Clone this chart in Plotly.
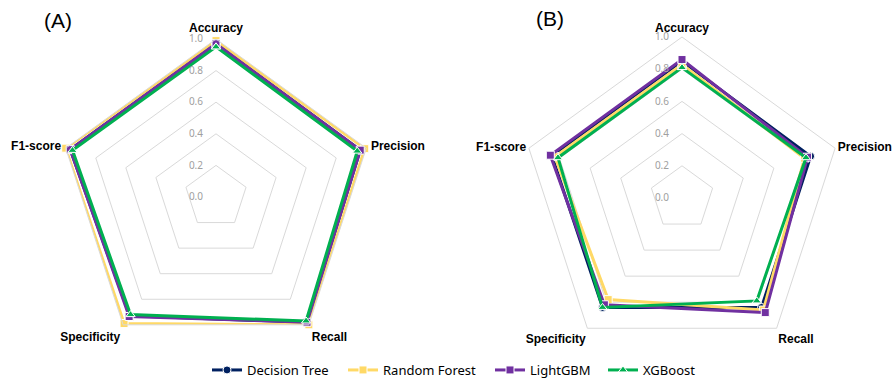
import plotly.graph_objects as go

categories = ["Accuracy", "Precision", "Recall", "Specificity", "F1-score"]
models = ["Decision Tree", "Random Forest", "LightGBM", "XGBoost"]

# Panel (A)
a_decision_tree = [0.97, 0.96, 0.98, 0.93, 0.97]
a_random_forest = [0.99, 0.99, 1.00, 0.99, 1.00]
a_lightgbm = [0.97, 0.96, 0.98, 0.935, 0.97]
a_xgboost = [0.95, 0.94, 0.97, 0.92, 0.955]

# Panel (B)
b_decision_tree = [0.85, 0.84, 0.84, 0.84, 0.85]
b_random_forest = [0.83, 0.80, 0.86, 0.78, 0.83]
b_lightgbm = [0.86, 0.82, 0.88, 0.82, 0.86]
b_xgboost = [0.81, 0.81, 0.79, 0.84, 0.81]

tick_vals = [0.0, 0.2, 0.4, 0.6, 0.8, 1.0]
tick_text = ["0.0", "0.2", "0.4", "0.6", "0.8", "1.0"]

colors = ["#002060", "#FFD966", "#7030A0", "#00B050"]
symbols = ["circle", "square", "square", "triangle-up"]
legend_ids = ["legend", "legend2", "legend3", "legend4"]
legend_text_x = [247, 383, 530, 643]

panel_a = [a_decision_tree, a_random_forest, a_lightgbm, a_xgboost]
panel_b = [b_decision_tree, b_random_forest, b_lightgbm, b_xgboost]

fig = go.Figure()

def closed(v):
    return list(v) + [v[0]]

for subplot, data, show in [("polar", panel_a, True), ("polar2", panel_b, False)]:
    for name, vals, col, sym, lid in zip(models, data, colors, symbols, legend_ids):
        fig.add_trace(go.Scatterpolar(
            r=closed(vals), theta=closed(categories), name=name,
            mode="lines+markers", subplot=subplot, showlegend=show, legend=lid,
            line=dict(color=col, width=3),
            marker=dict(symbol=sym, size=8, color=col, line=dict(color="white", width=1)),
        ))

def polar_layout(xdom, ydom, label_pad):
    return dict(
        domain=dict(x=xdom, y=ydom),
        bgcolor="white",
        gridshape="linear",
        angularaxis=dict(
            rotation=90, direction="clockwise", showgrid=False,
            linecolor="#d9d9d9", linewidth=1, ticks="outside", ticklen=label_pad,
            tickcolor="rgba(0,0,0,0)",
            tickfont=dict(family="Liberation Sans, Arial", size=12, color="black", weight="bold"),
        ),
        radialaxis=dict(
            range=[0, 1], tickvals=tick_vals, ticktext=tick_text, angle=90, tickangle=90,
            showline=False, gridcolor="#d9d9d9", gridwidth=1,
            ticks="outside", ticklen=9, tickcolor="rgba(0,0,0,0)",
            side="counterclockwise",
            tickfont=dict(family="Noto Sans", size=10, color="#a0a0a0"),
        ),
    )

legends = {}
for lid, tx in zip(legend_ids, legend_text_x):
    legends[lid] = dict(
        orientation="h", x=(tx - 40) / 894, xanchor="left", y=(381 - 370) / 381, yanchor="middle",
        font=dict(family="Noto Sans", size=13, color="black"),
        bgcolor="rgba(0,0,0,0)", itemwidth=30,
    )

fig.update_layout(
    width=894, height=381,
    margin=dict(l=0, r=0, t=0, b=0, autoexpand=False),
    paper_bgcolor="white",
    polar=polar_layout([58 / 894, 374 / 894], [1 - 356 / 381, 1 - 38 / 381], 2),
    polar2=polar_layout([521 / 894, 843 / 894], [1 - 359 / 381, 1 - 37 / 381], 0),
    annotations=[
        dict(text="(A)", x=57.5 / 894, y=1 - 20 / 381, xref="paper", yref="paper",
             xanchor="center", yanchor="middle",
             showarrow=False, font=dict(family="Liberation Sans, Arial", size=21, color="black")),
        dict(text="(B)", x=549.5 / 894, y=1 - 18 / 381, xref="paper", yref="paper",
             xanchor="center", yanchor="middle",
             showarrow=False, font=dict(family="Liberation Sans, Arial", size=21, color="black")),
    ],
    **legends,
)

fig.write_html("out.html")
